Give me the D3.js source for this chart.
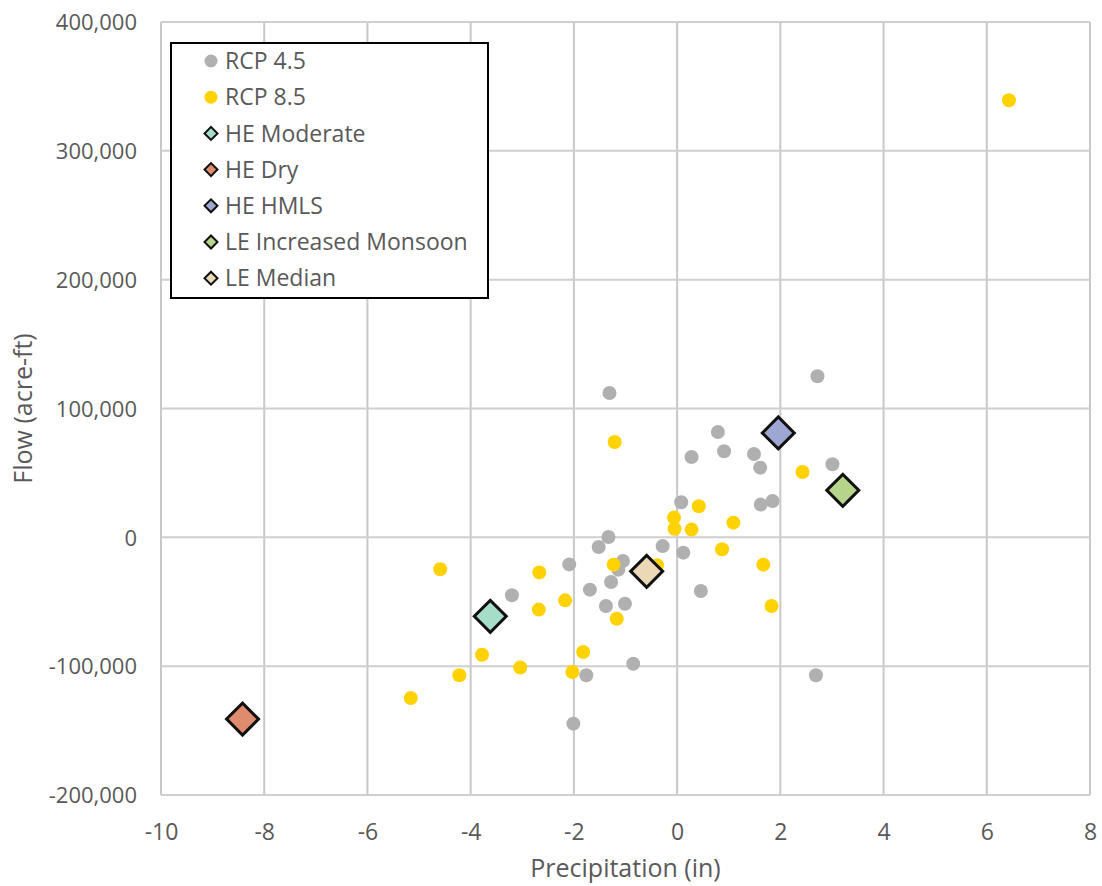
<!DOCTYPE html>
<html>
<head>
<meta charset="utf-8">
<script src="https://cdn.jsdelivr.net/npm/d3@7"></script>
<style>
  html, body { margin: 0; padding: 0; background: #fff; }
  svg { display: block; }
  text { font-family: "Open Sans", "Noto Sans", sans-serif; fill: #595959; }
</style>
</head>
<body>
<svg id="chart" width="1102" height="886"></svg>
<script>
// ---- Data ----
const xTicks = [-10, -8, -6, -4, -2, 0, 2, 4, 6, 8];
const yTicks = [-200000, -100000, 0, 100000, 200000, 300000, 400000];

const rcp45 = [
  [-1.31, 112000], [2.72, 125000], [0.79, 81800], [0.28, 62300], [0.91, 66800],
  [1.49, 64700], [1.61, 54100], [3.01, 56700], [0.08, 27200], [1.62, 25400],
  [1.85, 28200], [-0.28, -6800], [0.12, -11900], [0.46, -41700], [2.69, -107100],
  [-1.33, 300], [-1.52, -7500], [-2.09, -21000], [-1.05, -18400], [-1.14, -25100],
  [-1.28, -34700], [-1.69, -40600], [-1.38, -53300], [-1.01, -51500], [-0.85, -98100],
  [-1.76, -107100], [-2.01, -144600], [-3.20, -45000]
];

const rcp85 = [
  [6.43, 339300], [-1.21, 74000], [2.43, 50700], [0.42, 24100], [-0.06, 15300],
  [-0.05, 6700], [0.28, 6000], [1.09, 11400], [0.87, -9300], [1.67, -21200],
  [1.83, -53300], [-1.23, -21200], [-0.39, -21700], [-2.67, -27200], [-2.17, -48900],
  [-2.68, -56100], [-1.17, -63200], [-1.82, -89000], [-2.03, -104500], [-3.04, -101000],
  [-4.59, -24800], [-3.78, -91100], [-4.22, -107100], [-5.16, -124700]
];

const scenarioNames = ["HE Moderate", "HE Dry", "HE HMLS", "LE Increased Monsoon", "LE Median"];
const scenarioX = [-3.62, -8.42, 1.96, 3.21, -0.59];
const scenarioY = [-61300, -141100, 81000, 36500, -26400];
const scenarioColors = ["#A6DDC8", "#DF8B6D", "#9EA7D1", "#B7D58A", "#EAD8B6"];

const seriesColors = { "RCP 4.5": "#B0B0B0", "RCP 8.5": "#FFD200" };

// ---- Layout ----
const svg = d3.select("#chart");
const L = 161, R = 1090, T = 22, B = 795;

const x = d3.scaleLinear().domain([-10, 8]).range([L, R]);
const y = d3.scaleLinear().domain([-200000, 400000]).range([B, T]);

// Gridlines
const grid = svg.append("g");
grid.selectAll("line.v").data(xTicks).enter().append("line")
  .attr("x1", d => x(d)).attr("x2", d => x(d))
  .attr("y1", T).attr("y2", B)
  .attr("stroke", "#C8C8C8").attr("stroke-width", 2);
grid.selectAll("line.h").data(yTicks).enter().append("line")
  .attr("x1", L).attr("x2", R)
  .attr("y1", d => y(d)).attr("y2", d => y(d))
  .attr("stroke", "#CFCFCF").attr("stroke-width", 2);

// Axes (labels only, using d3 axes)
const fmt = d3.format(",");
const xAxis = svg.append("g").attr("transform", `translate(0,${B})`)
  .call(d3.axisBottom(x).tickValues(xTicks).tickSize(0).tickPadding(0).tickFormat(d => d < 0 ? "-" + Math.abs(d) : d));
xAxis.select(".domain").remove();
xAxis.selectAll("text").attr("y", 45).attr("dy", null)
  .style("font-size", "23px").style("font-family", '"Open Sans", sans-serif').attr("fill", "#595959");

const yAxis = svg.append("g").attr("transform", `translate(137,0)`)
  .call(d3.axisLeft(y).tickValues(yTicks).tickSize(0).tickPadding(0).tickFormat(d => d < 0 ? "-" + fmt(Math.abs(d)) : fmt(d)));
yAxis.select(".domain").remove();
yAxis.selectAll("text").attr("x", 0).attr("dy", "0.35em")
  .style("font-size", "22px").style("font-family", '"Open Sans", sans-serif').attr("fill", "#595959");

// Axis titles
svg.append("text").attr("x", (L + R) / 2).attr("y", 877)
  .attr("text-anchor", "middle").style("font-size", "25px").text("Precipitation (in)");
svg.append("text").attr("transform", `translate(32,${(T + B) / 2}) rotate(-90)`)
  .attr("text-anchor", "middle").style("font-size", "25px").text("Flow (acre-ft)");

// Points
const pts = svg.append("g");
pts.selectAll("circle.g").data(rcp45).enter().append("circle")
  .attr("cx", d => x(d[0])).attr("cy", d => y(d[1])).attr("r", 7)
  .attr("fill", seriesColors["RCP 4.5"]);
pts.selectAll("circle.y").data(rcp85).enter().append("circle")
  .attr("cx", d => x(d[0])).attr("cy", d => y(d[1])).attr("r", 7)
  .attr("fill", seriesColors["RCP 8.5"]);

const bigDiamond = d3.symbol().type(d3.symbolSquare).size(512);
pts.selectAll("path.d").data(scenarioNames).enter().append("path")
  .attr("d", bigDiamond)
  .attr("transform", (d, i) => `translate(${x(scenarioX[i])},${y(scenarioY[i])}) rotate(45)`)
  .attr("fill", (d, i) => scenarioColors[i])
  .attr("stroke", "#111").attr("stroke-width", 3).attr("stroke-linejoin", "miter");

// Legend
const legendItems = [
  { name: "RCP 4.5", type: "circle", color: seriesColors["RCP 4.5"] },
  { name: "RCP 8.5", type: "circle", color: seriesColors["RCP 8.5"] }
].concat(scenarioNames.map((n, i) => ({ name: n, type: "diamond", color: scenarioColors[i] })));

const lg = svg.append("g");
lg.append("rect").attr("x", 171).attr("y", 43).attr("width", 317).attr("height", 255)
  .attr("fill", "#fff").attr("stroke", "#000").attr("stroke-width", 2);

const smallDiamond = d3.symbol().type(d3.symbolSquare).size(84);
const rows = lg.selectAll("g.item").data(legendItems).enter().append("g")
  .attr("transform", (d, i) => `translate(211,${61 + i * 36.2})`);
rows.each(function(d) {
  const g = d3.select(this);
  if (d.type === "circle") {
    g.append("circle").attr("r", 6.5).attr("fill", d.color);
  } else {
    g.append("path").attr("d", smallDiamond).attr("transform", "rotate(45)")
      .attr("fill", d.color).attr("stroke", "#111").attr("stroke-width", 2);
  }
  g.append("text").attr("x", 14).attr("dy", "0.36em").style("font-size", "23px").text(d.name);
});
</script>
</body>
</html>
